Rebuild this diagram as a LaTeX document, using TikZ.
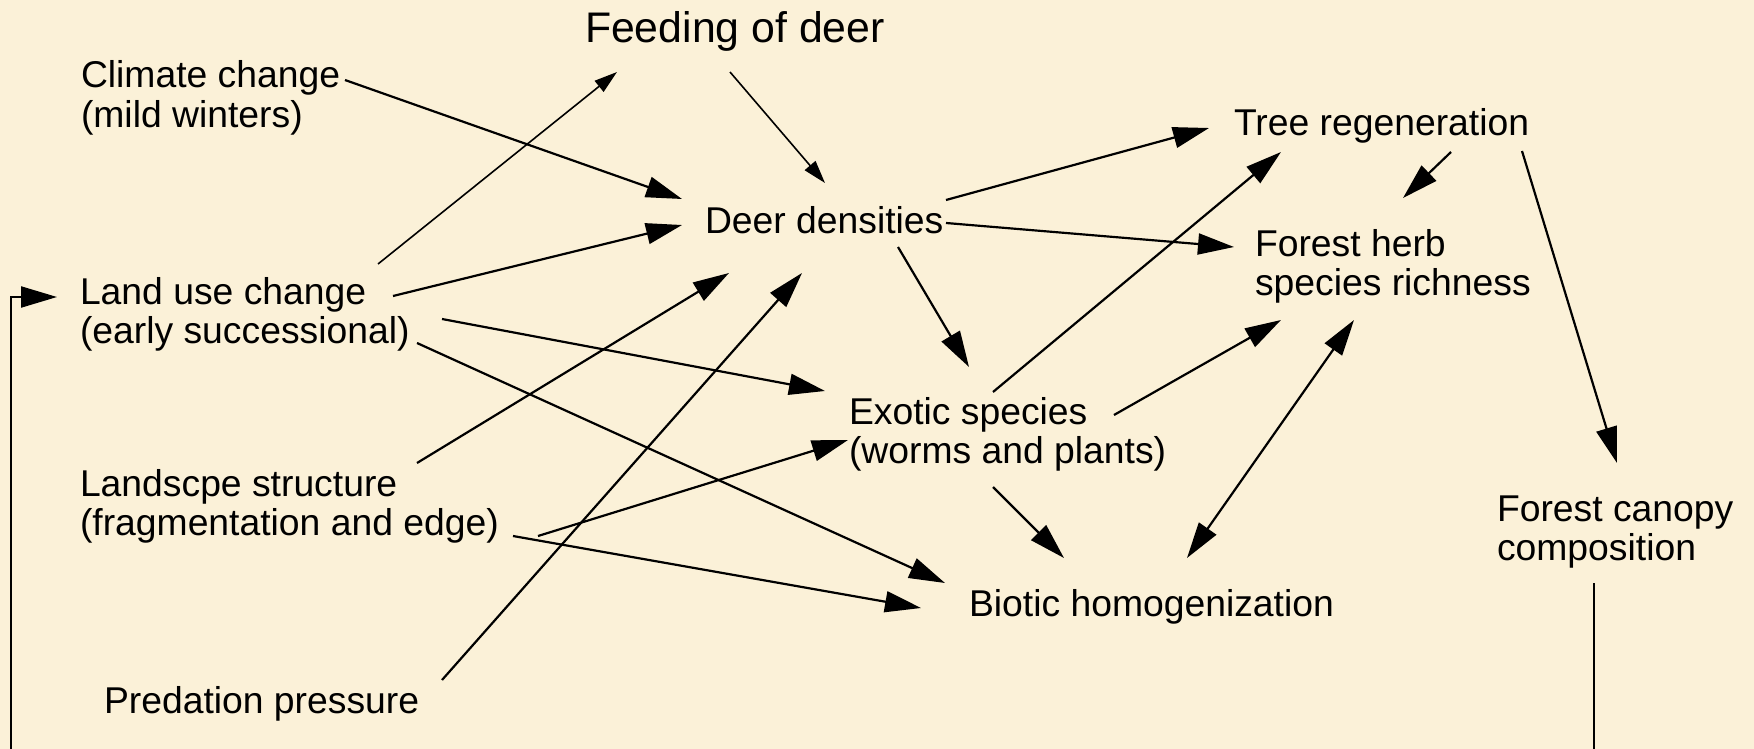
\documentclass[tikz,border=0pt]{standalone}
\usepackage{fontspec}
\setmainfont{Liberation Sans}
\usetikzlibrary{arrows.meta,calc}
\definecolor{parch}{RGB}{251,241,216}
\newcommand{\twol}[2]{\begin{tabular}[t]{@{}l@{}}#1\\#2\end{tabular}}
\tikzset{
  lab/.style={anchor=base west, inner sep=0pt, outer sep=0pt, font=\fontsize{37.3}{39.5}\selectfont},
  bigarr/.style={line width=2.2pt, -{Triangle[length=36pt,width=21pt]}},
  dblarr/.style={line width=2.2pt, {Triangle[length=36pt,width=21pt]}-{Triangle[length=36pt,width=21pt]}},
  thinarr/.style={line width=1.6pt, -{Triangle[length=23pt,width=14pt]}},
  plainline/.style={line width=2.2pt}
}
\begin{document}
\begin{tikzpicture}[x=1pt,y=-1pt]
\useasboundingbox (0,0) rectangle (1754,749);
\fill[parch] (0,0) rectangle (1754,749);
\clip (0,0) rectangle (1754,749);

\node[lab, font=\fontsize{42.8}{46}\selectfont] (feed) at (585,43) {Feeding of deer};
\node[lab] (climate) at (81,88) {\twol{Climate change}{(mild winters)}};
\node[lab] (landuse) at (80,304) {\twol{Land use change}{(early successional)}};
\node[lab] (landscape) at (80,496) {\twol{Landscpe structure}{(fragmentation and edge)}};
\node[lab] (predation) at (104,713) {Predation pressure};
\node[lab] (deer) at (705,233) {Deer densities};
\node[lab] (tree) at (1234,136) {Tree regeneration};
\node[lab] (herb) at (1255,256) {\twol{Forest herb}{species richness}};
\node[lab] (exotic) at (849,424) {\twol{Exotic species}{(worms and plants)}};
\node[lab] (biotic) at (969,616) {Biotic homogenization};
\node[lab] (canopy) at (1497,521) {\twol{Forest canopy}{composition}};

\coordinate (fbr) at (1594,775);
\coordinate (fbl) at (11,775);

\draw[bigarr] ($(climate.base west)+(264,-8)$) -- ($(deer.base west)+(-23,-34)$);
\draw[thinarr] ($(landuse.base west)+(298,-40)$) -- ($(feed.base west)+(32,29)$);
\draw[bigarr] ($(landuse.base west)+(313,-8)$) -- ($(deer.base west)+(-23,-8)$);
\draw[bigarr] ($(landuse.base west)+(362,15)$) -- ($(exotic.base west)+(-24,-33)$);
\draw[bigarr] ($(landuse.base west)+(337,39)$) -- ($(biotic.base west)+(-24,-33)$);
\draw[bigarr] ($(landscape.base west)+(337,-33)$) -- ($(deer.base west)+(24,40)$);
\draw[bigarr] ($(landscape.base west)+(458,40)$) -- ($(exotic.base west)+(-1,16)$);
\draw[bigarr] ($(landscape.base west)+(433,40)$) -- ($(biotic.base west)+(-48,-8)$);
\draw[bigarr] ($(predation.base west)+(338,-33)$) -- ($(deer.base west)+(97,40)$);
\draw[thinarr] ($(feed.base west)+(145,29)$) -- ($(deer.base west)+(120,-50)$);
\draw[bigarr] ($(deer.base west)+(241,-33)$) -- ($(tree.base west)+(-25,-8)$);
\draw[bigarr] ($(deer.base west)+(241,-10)$) -- ($(herb.base west)+(-21,-9)$);
\draw[bigarr] ($(deer.base west)+(193,14)$) -- ($(exotic.base west)+(120,-57)$);
\draw[bigarr] ($(exotic.base west)+(144,-32)$) -- ($(tree.base west)+(47,16)$);
\draw[bigarr] ($(exotic.base west)+(265,-9)$) -- ($(herb.base west)+(26,64)$);
\draw[bigarr] ($(exotic.base west)+(144,63)$) -- ($(biotic.base west)+(95,-58)$);
\draw[dblarr] ($(biotic.base west)+(218,-58)$) -- ($(herb.base west)+(99,64)$);
\draw[bigarr] ($(tree.base west)+(217,16)$) -- ($(herb.base west)+(148,-58)$);
\draw[bigarr] ($(tree.base west)+(288,15)$) -- ($(canopy.base west)+(120,-58)$);
\draw[bigarr] ($(canopy.base west)+(97,62)$) -- (fbr) -- (fbl) |- ($(landuse.base west)+(-23,-7)$);
\end{tikzpicture}
\end{document}
